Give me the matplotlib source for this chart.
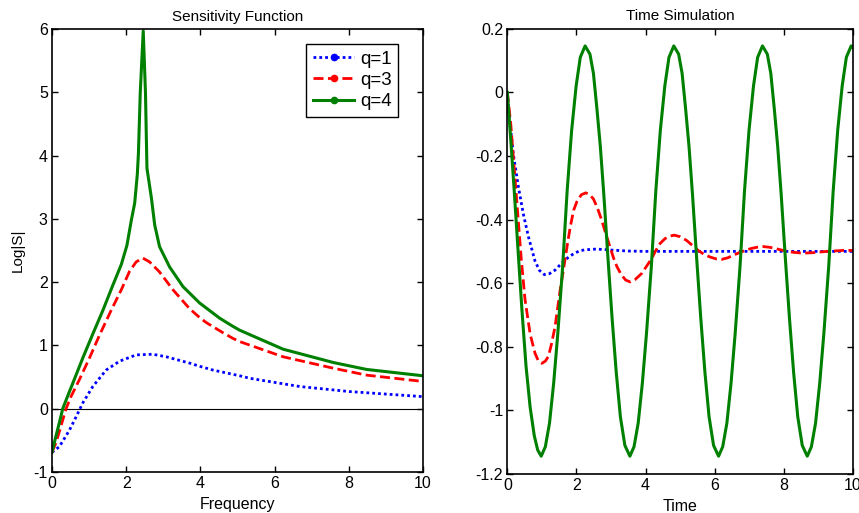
import matplotlib
matplotlib.use('Agg')

import matplotlib.pyplot as plt
from matplotlib.lines import Line2D

plt.rcParams['font.family'] = ['Liberation Sans', 'DejaVu Sans']
plt.rcParams['axes.unicode_minus'] = False

# ---- Sensitivity function data ----
freq_q1 = [0, 0.2, 0.47, 0.65, 0.83, 1.10, 1.46, 1.82, 2.27, 2.72, 3.08, 3.71,
           3.98, 4.34, 5.06, 5.33, 6.68, 8.03, 10]
logs_q1 = [-0.69, -0.60, -0.34, -0.13, 0.09, 0.35, 0.61, 0.75, 0.85, 0.86, 0.82, 0.72,
           0.67, 0.61, 0.52, 0.48, 0.35, 0.27, 0.19]

freq_q3 = [0, 0.1, 0.2, 0.38, 0.52, 0.74, 1.01, 1.28, 1.60, 1.87, 2.09, 2.27, 2.45,
           2.63, 2.90, 3.26, 3.71, 3.98, 4.16, 4.61, 4.88, 5.06, 6.23, 7.58, 8.48, 10]
logs_q3 = [-0.69, -0.55, -0.36, 0.0, 0.20, 0.46, 0.80, 1.16, 1.56, 1.88, 2.17, 2.32, 2.38,
           2.32, 2.16, 1.88, 1.58, 1.44, 1.36, 1.20, 1.11, 1.06, 0.82, 0.64, 0.53, 0.43]

freq_q4 = [0, 0.1, 0.2, 0.29, 0.45, 0.56, 0.83, 1.10, 1.37, 1.64, 1.87, 2.02, 2.14,
           2.23, 2.30, 2.33, 2.38, 2.46, 2.52, 2.56, 2.68, 2.77, 2.90, 3.17, 3.53,
           3.98, 4.52, 4.88, 5.06, 6.23, 7.58, 8.48, 10]
logs_q4 = [-0.69, -0.45, -0.22, 0.0, 0.24, 0.40, 0.80, 1.18, 1.55, 1.95, 2.28, 2.58, 2.98,
           3.25, 3.70, 4.03, 5.00, 5.97, 5.00, 3.80, 3.33, 2.90, 2.56, 2.24, 1.93,
           1.67, 1.43, 1.30, 1.24, 0.94, 0.73, 0.62, 0.52]

# ---- Time simulation data ----
time_q1 = [0, 0.03, 0.1, 0.17, 0.32, 0.46, 0.61, 0.8, 0.93, 1.07, 1.22, 1.38, 1.52,
           1.67, 1.82, 1.96, 2.1, 2.25, 2.54, 2.8, 3.02, 3.5, 4, 5, 6, 7, 8, 9, 10]
y_q1 = [0, -0.045, -0.12, -0.192, -0.297, -0.381, -0.454, -0.53, -0.56, -0.573, -0.57,
        -0.559, -0.543, -0.527, -0.514, -0.505, -0.498, -0.495, -0.493, -0.494, -0.496,
        -0.499, -0.5, -0.5, -0.5, -0.5, -0.5, -0.5, -0.5]

time_q3 = [0, 0.1, 0.2, 0.3, 0.4, 0.51, 0.66, 0.80, 0.90, 1.0, 1.10, 1.19, 1.28, 1.38,
           1.53, 1.62, 1.72, 1.82, 1.92, 2.01, 2.14, 2.27, 2.38, 2.49, 2.61, 2.73, 2.85,
           2.97, 3.07, 3.17, 3.29, 3.42, 3.55, 3.7, 3.89, 4.05, 4.18, 4.28, 4.42, 4.56,
           4.70, 4.83, 5.0, 5.19, 5.36, 5.53, 5.70, 5.87, 6.05, 6.21, 6.38, 6.54, 6.71,
           6.88, 7.05, 7.22, 7.4, 7.58, 7.75, 7.9, 8.1, 8.28, 8.48, 8.67, 8.86, 9.05,
           9.25, 9.44, 9.7, 10]
y_q3 = [0, -0.10, -0.24, -0.38, -0.52, -0.65, -0.76, -0.82, -0.845, -0.852, -0.845,
        -0.83, -0.79, -0.737, -0.62, -0.56, -0.49, -0.423, -0.37, -0.344, -0.322, -0.316,
        -0.322, -0.335, -0.365, -0.402, -0.445, -0.486, -0.52, -0.548, -0.572, -0.59,
        -0.596, -0.588, -0.569, -0.543, -0.522, -0.50, -0.475, -0.46, -0.452, -0.449,
        -0.454, -0.466, -0.482, -0.498, -0.51, -0.518, -0.524, -0.525, -0.52, -0.512,
        -0.504, -0.497, -0.491, -0.487, -0.485, -0.487, -0.491, -0.495, -0.50, -0.503,
        -0.505, -0.505, -0.504, -0.502, -0.50, -0.499, -0.497, -0.497]

time_q4 = [0, 0.1, 0.2, 0.3, 0.42, 0.54, 0.66, 0.78, 0.88, 0.98,
           1.10, 1.22, 1.34, 1.46, 1.60, 1.73, 1.86, 1.99, 2.11, 2.25,
           2.39, 2.49, 2.59, 2.69, 2.79, 2.91, 3.03, 3.15, 3.27, 3.40, 3.545,
           3.665, 3.785, 3.905, 4.025, 4.165, 4.295, 4.425, 4.555, 4.675, 4.815,
           4.955, 5.055, 5.155, 5.255, 5.355, 5.475, 5.595, 5.715, 5.835, 5.965, 6.11,
           6.23, 6.35, 6.47, 6.59, 6.73, 6.86, 6.99, 7.12, 7.24, 7.38,
           7.52, 7.62, 7.72, 7.82, 7.92, 8.04, 8.16, 8.28, 8.40, 8.53, 8.675,
           8.795, 8.915, 9.035, 9.155, 9.295, 9.425, 9.555, 9.685, 9.805, 9.945, 10.0]
y_q4 = [0, -0.15, -0.31, -0.48, -0.68, -0.86, -0.99, -1.08, -1.125, -1.144,
        -1.114, -1.04, -0.915, -0.758, -0.548, -0.31, -0.12, 0.02, 0.11, 0.146,
        0.12, 0.06, -0.05, -0.17, -0.32, -0.52, -0.71, -0.88, -1.02, -1.11, -1.144,
        -1.114, -1.04, -0.915, -0.758, -0.548, -0.31, -0.12, 0.02, 0.11, 0.146,
        0.12, 0.06, -0.05, -0.17, -0.32, -0.52, -0.71, -0.88, -1.02, -1.11, -1.144,
        -1.114, -1.04, -0.915, -0.758, -0.548, -0.31, -0.12, 0.02, 0.11, 0.146,
        0.12, 0.06, -0.05, -0.17, -0.32, -0.52, -0.71, -0.88, -1.02, -1.11, -1.144,
        -1.114, -1.04, -0.915, -0.758, -0.548, -0.31, -0.12, 0.02, 0.11, 0.146, 0.14]

labels = ['q=1', 'q=3', 'q=4']
freq_ticks = [0, 2, 4, 6, 8, 10]
logs_ticks = [-1, 0, 1, 2, 3, 4, 5, 6]
time_yticks = [0.2, 0, -0.2, -0.4, -0.6, -0.8, -1, -1.2]
time_ylabels = ['0.2', '0', '-0.2', '-0.4', '-0.6', '-0.8', '-1', '-1.2']

blue = (0, 0, 1)
red = (1, 0, 0)
green = (0, 0.5, 0)
dot = (0, (1.0, 1.1))
dash = (0, (3.6, 1.6))

fig = plt.figure(figsize=(8.59, 5.13), dpi=100)
ax1 = fig.add_axes([0.0605, 0.080, 0.4319, 0.8635])
ax2 = fig.add_axes([0.5906, 0.076, 0.4025, 0.868])

# Left: sensitivity function
ax1.axhline(0, color='black', linewidth=0.8)
ax1.plot(freq_q1, logs_q1, color=blue, linestyle=dot, linewidth=2.0)
ax1.plot(freq_q3, logs_q3, color=red, linestyle=dash, linewidth=2.0)
ax1.plot(freq_q4, logs_q4, color=green, linestyle='-', linewidth=2.2)
ax1.set_xlim(0, 10)
ax1.set_ylim(-1, 6)
ax1.set_xticks(freq_ticks)
ax1.set_yticks(logs_ticks)
ax1.set_title('Sensitivity Function', fontsize=11, pad=6)
ax1.set_xlabel('Frequency', fontsize=11.5, labelpad=4)
ax1.set_ylabel('Log|S|', fontsize=11, labelpad=6)

handles = [
    Line2D([], [], color=blue, linestyle=dot, linewidth=2.0, marker='.', markersize=9),
    Line2D([], [], color=red, linestyle=dash, linewidth=2.0, marker='.', markersize=9),
    Line2D([], [], color=green, linestyle='-', linewidth=2.2, marker='.', markersize=9),
]
leg = ax1.legend(handles, labels, loc='upper right', bbox_to_anchor=(0.933, 0.966),
                 borderaxespad=0, fontsize=13.5, numpoints=1, handlelength=2.2,
                 handletextpad=0.3, labelspacing=0.22, borderpad=0.35,
                 fancybox=False, framealpha=1, edgecolor='black')
leg.get_frame().set_linewidth(1.0)

# Right: time simulation
ax2.plot(time_q1, y_q1, color=blue, linestyle=dot, linewidth=2.0)
ax2.plot(time_q3, y_q3, color=red, linestyle=dash, linewidth=2.0)
ax2.plot(time_q4, y_q4, color=green, linestyle='-', linewidth=2.2)
ax2.set_xlim(0, 10)
ax2.set_ylim(-1.2, 0.2)
ax2.set_xticks(freq_ticks)
ax2.set_yticks(time_yticks)
ax2.set_yticklabels(time_ylabels)
ax2.set_title('Time Simulation', fontsize=11, pad=6)
ax2.set_xlabel('Time', fontsize=11.5, labelpad=4)

for ax in (ax1, ax2):
    ax.tick_params(direction='in', top=True, right=True, length=4, width=1,
                   labelsize=11.5, pad=3)
    for s in ax.spines.values():
        s.set_linewidth(1.2)

fig.savefig('out.png', dpi=100)
